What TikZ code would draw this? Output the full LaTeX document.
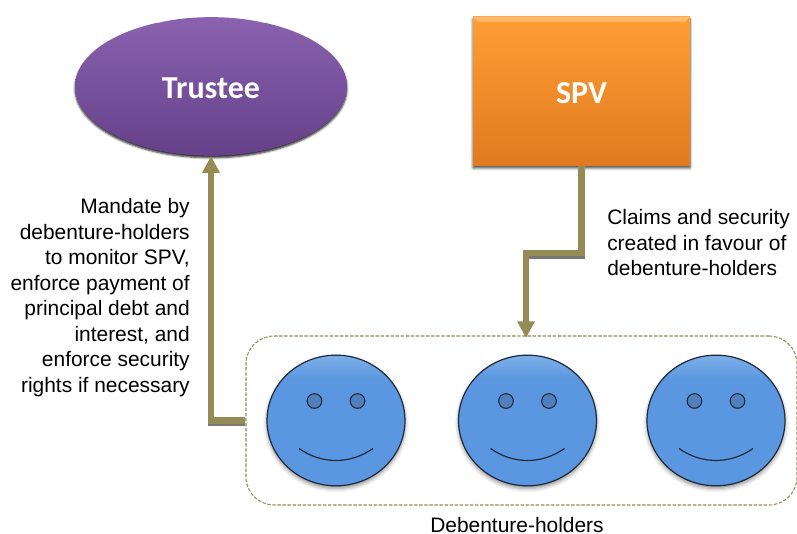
\documentclass[tikz,border=0pt]{standalone}
\usepackage{fontspec}
\setmainfont{Liberation Sans}
\newfontfamily\titlefont{Carlito}
\usetikzlibrary{shapes.geometric,arrows.meta,calc,shadows.blur}
\definecolor{arrowc}{HTML}{958B55}
\definecolor{shadowc}{HTML}{77777A}
\definecolor{facec}{HTML}{5B97E0}
\definecolor{facetop}{HTML}{7DB0EA}
\definecolor{eyec}{HTML}{4F7FBC}
\definecolor{linec}{HTML}{1F2A38}
\definecolor{purpletop}{HTML}{8A62B0}
\definecolor{purplebot}{HTML}{654088}
\definecolor{orangetop}{HTML}{FF9E33}
\definecolor{orangebot}{HTML}{E07A20}
\pgfdeclareverticalshading{faceshade}{100bp}{color(0bp)=(facec); color(66bp)=(facec); color(75bp)=(facetop); color(100bp)=(facetop)}
\tikzset{
  x=0.75pt,y=-0.75pt,
  title/.style={text=white,font=\titlefont\bfseries\fontsize{24}{28}\selectfont},
  note/.style={text=black,font=\fontsize{15.7}{19.1}\selectfont,inner sep=0pt},
  trustee/.style={ellipse,inner sep=0pt,minimum width=204pt,minimum height=104pt,
    top color=purpletop,bottom color=purplebot,
    blur shadow={shadow xshift=0pt,shadow yshift=-1.5pt,shadow blur radius=1.5pt,shadow opacity=85}},
  spvbox/.style={rectangle,inner sep=0pt,minimum width=162.75pt,minimum height=111.75pt,
    top color=orangetop,bottom color=orangebot,
    blur shadow={shadow xshift=0pt,shadow yshift=-1.5pt,shadow blur radius=2pt,shadow opacity=75}},
  group/.style={rectangle,rounded corners=21pt,draw=arrowc,dash pattern=on 2.6pt off 1.2pt,line width=0.8pt,
    minimum width=413.25pt,minimum height=126.75pt,inner sep=0pt},
  face/.style={ellipse,inner sep=0pt,minimum width=103.5pt,minimum height=98pt,draw=linec,line width=0.9pt,
    shading=faceshade,
    blur shadow={shadow xshift=0pt,shadow yshift=-2pt,shadow blur radius=3pt,shadow opacity=45}},
  eye/.style={circle,inner sep=0pt,minimum size=11pt,draw=linec,line width=0.8pt,fill=eyec},
  smile/.style={draw=linec,line width=0.9pt},
  conn/.style={draw=arrowc,line width=4.6pt},
  connshadow/.style={draw=shadowc,line width=4.6pt,shorten >=12.5pt},
  tipped/.style={-{Triangle[length=12.5pt,width=12.5pt]}},
}
\begin{document}
\begin{tikzpicture}
\useasboundingbox (0,0) rectangle (797,534);
% group and nodes
\node[group] (holders) at (521.5,420.5) {};
\node[trustee] (tr) at (211,86.5) {};
\node[title] (trl) at (211,88) {Trustee};
\node[spvbox] (spv) at (581.5,91.5) {};
\node[title] (spvl) at (581.5,93) {SPV};
\coordinate (drop) at (526,338);
% connectors: shadow first
\draw[connshadow,transform canvas={yshift=-2.2pt}] (holders.west) -| (tr.south);
\draw[connshadow,transform canvas={yshift=-2.2pt}] (spv.south) |- ($(spv.south)!0.5!(drop)+(0,1)$) -| (drop);
\draw[conn,tipped] (holders.west) -| (tr.south);
\draw[conn,tipped] (spv.south) |- ($(spv.south)!0.5!(drop)+(0,1)$) -| (drop);
% top highlights
\draw[white,opacity=.35,line width=1.2pt] (tr.130) to[bend left=14] (tr.50);
\fill[white,opacity=.3] (spv.north west) -- (spv.north east) -- ++(-5,5) -- ++(-207,0) -- cycle;
% faces
\foreach \n/\cx in {1/336,2/527.5,3/716}{
  \node[face] (f\n) at (\cx,420.5) {};
  \node[eye] (el\n) at (\cx-21.5,401) {};
  \node[eye] (er\n) at (\cx+21.5,401) {};
  \draw[smile] ($(f\n.center)+(-37,28)$) .. controls ($(f\n.center)+(-14,44)$) and ($(f\n.center)+(14,44)$) .. ($(f\n.center)+(37,28)$);
}
% labels
\node[note,align=right,anchor=north east] (mandate) at (190,198.5) {Mandate by\\debenture-holders\\to monitor SPV,\\enforce payment of\\principal debt and\\interest, and\\enforce security\\rights if necessary};
\node[note,align=left,anchor=north west] (claims) at (607,209.5) {Claims and security\\created in favour of\\debenture-holders};
\node[note,anchor=center] (dh) at (517,525) {Debenture-holders};
\end{tikzpicture}
\end{document}
